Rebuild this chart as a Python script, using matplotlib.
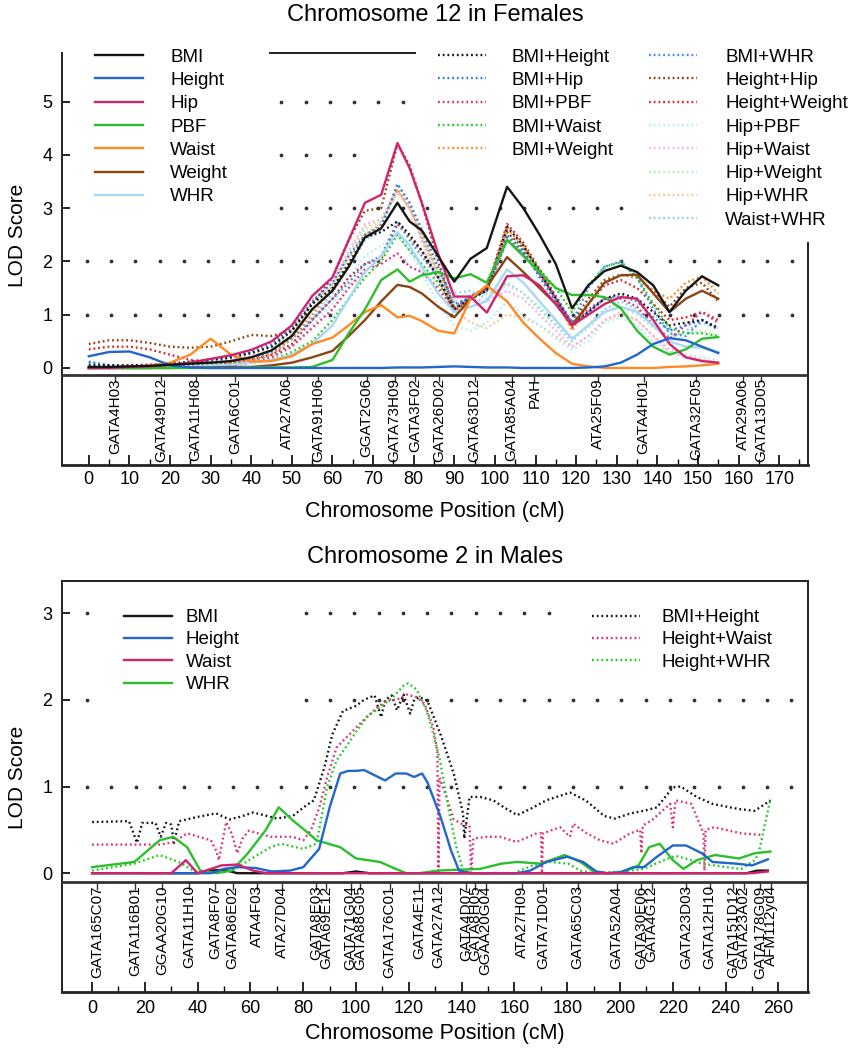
import numpy as np
import matplotlib
matplotlib.use("Agg")
import matplotlib.pyplot as plt
from matplotlib.ticker import FixedLocator

plt.rcParams['font.family'] = ['Liberation Sans', 'DejaVu Sans']
plt.rcParams['lines.scale_dashes'] = False

# ---------------- Chromosome 12, females ----------------
xt = [0, 5, 10, 15, 20, 25, 30, 35, 40, 45, 50, 55, 60, 64, 68, 72, 76, 79, 82, 86,
      90, 94, 98, 103, 107, 111, 115, 119, 123, 127, 131, 135, 139, 143, 147, 151, 155]

f_bmi = [0.02, 0.02, 0.03, 0.04, 0.06, 0.08, 0.10, 0.13, 0.20, 0.33, 0.60, 1.10, 1.45, 1.90, 2.45, 2.62, 3.10, 2.75, 2.58, 2.10,
         1.62, 2.05, 2.25, 3.40, 3.00, 2.50, 1.95, 1.12, 1.55, 1.82, 1.92, 1.80, 1.55, 1.05, 1.45, 1.72, 1.55]
f_height = [0.22, 0.30, 0.31, 0.20, 0.05, 0.01, 0, 0, 0, 0, 0, 0, 0, 0, 0, 0, 0.01, 0.01, 0.01, 0.02,
            0.03, 0.02, 0.01, 0.01, 0, 0, 0, 0, 0.01, 0.03, 0.10, 0.25, 0.45, 0.56, 0.52, 0.40, 0.28]
f_hip = [0.0, 0.0, 0.02, 0.03, 0.06, 0.10, 0.17, 0.24, 0.34, 0.50, 0.80, 1.35, 1.70, 2.40, 3.10, 3.25, 4.22, 3.75, 3.10, 2.15,
         1.34, 1.34, 1.04, 1.72, 1.74, 1.55, 1.20, 0.80, 1.00, 1.20, 1.33, 1.30, 0.90, 0.45, 0.20, 0.13, 0.10]
f_pbf = [0, 0, 0, 0, 0, 0, 0, 0, 0.01, 0.01, 0.01, 0.02, 0.15, 0.65, 1.10, 1.65, 1.85, 1.62, 1.74, 1.80,
         1.68, 1.76, 1.60, 2.40, 2.10, 1.80, 1.50, 1.37, 1.37, 1.33, 1.12, 0.70, 0.40, 0.25, 0.35, 0.55, 0.58]
f_waist = [0, 0.01, 0.02, 0.05, 0.10, 0.25, 0.55, 0.25, 0.12, 0.13, 0.22, 0.45, 0.57, 0.80, 1.05, 1.18, 0.95, 0.98, 0.88, 0.70,
           0.65, 1.30, 1.55, 1.25, 0.85, 0.55, 0.28, 0.08, 0.03, 0, 0, 0, 0, 0.02, 0.03, 0.05, 0.08]
f_weight = [0, 0, 0, 0, 0, 0.01, 0.01, 0.02, 0.02, 0.05, 0.10, 0.20, 0.32, 0.60, 0.90, 1.25, 1.56, 1.52, 1.40, 1.15,
            0.95, 1.30, 1.52, 2.08, 1.80, 1.50, 1.20, 0.80, 1.20, 1.60, 1.74, 1.75, 1.40, 1.05, 1.30, 1.45, 1.30]
f_whr = [0, 0, 0, 0, 0.01, 0.02, 0.04, 0.06, 0.10, 0.15, 0.25, 0.45, 0.80, 1.30, 1.80, 2.10, 2.55, 2.30, 1.90, 1.40,
         1.05, 1.15, 1.25, 1.85, 1.60, 1.25, 0.90, 0.55, 0.80, 1.05, 1.15, 1.05, 0.80, 0.50, 0.40, 0.38, 0.30]

f_bmi_height = [0.05, 0.05, 0.05, 0.06, 0.08, 0.12, 0.16, 0.20, 0.28, 0.40, 0.70, 1.20, 1.50, 1.95, 2.45, 2.55, 2.75, 2.50, 2.20, 1.70,
                1.10, 1.30, 1.45, 2.65, 2.30, 1.80, 1.30, 0.80, 1.05, 1.30, 1.40, 1.30, 1.05, 0.80, 0.85, 0.90, 0.75]
f_bmi_hip = [0.10, 0.05, 0.03, 0.03, 0.04, 0.08, 0.12, 0.20, 0.30, 0.45, 0.75, 1.25, 1.60, 2.10, 2.50, 2.65, 3.45, 3.10, 2.60, 1.90,
             1.20, 1.30, 1.45, 2.50, 2.20, 1.70, 1.25, 0.80, 1.05, 1.30, 1.35, 1.25, 0.95, 0.70, 0.80, 0.90, 0.72]
f_bmi_pbf = [0, 0, 0, 0, 0.01, 0.02, 0.03, 0.05, 0.10, 0.20, 0.40, 0.75, 1.10, 1.50, 1.85, 1.95, 2.15, 1.90, 1.80, 1.50,
             1.10, 1.35, 1.45, 2.40, 2.15, 1.75, 1.30, 0.85, 1.10, 1.30, 1.30, 1.15, 0.80, 0.55, 0.80, 1.05, 0.85]
f_bmi_waist = [0, 0, 0, 0, 0.01, 0.02, 0.05, 0.07, 0.10, 0.15, 0.30, 0.50, 0.90, 1.30, 1.70, 2.00, 2.50, 2.20, 1.95, 1.60,
               1.10, 1.30, 1.45, 2.45, 2.20, 1.85, 1.50, 1.05, 1.55, 1.90, 1.98, 1.70, 1.20, 0.75, 0.65, 0.65, 0.60]
f_bmi_weight = [0, 0, 0, 0.01, 0.02, 0.03, 0.05, 0.10, 0.15, 0.25, 0.55, 1.00, 1.50, 2.00, 2.50, 2.70, 3.35, 3.00, 2.50, 1.80,
                1.10, 1.30, 1.50, 2.60, 2.30, 1.80, 1.30, 0.70, 1.20, 1.60, 1.75, 1.70, 1.45, 1.30, 1.60, 1.72, 1.40]
f_bmi_whr = [0.12, 0.05, 0.02, 0.02, 0.03, 0.05, 0.08, 0.10, 0.15, 0.30, 0.55, 0.90, 1.30, 1.60, 1.95, 2.10, 2.75, 2.40, 2.10, 1.70,
             1.15, 1.35, 1.45, 2.40, 2.15, 1.75, 1.35, 0.85, 1.50, 1.90, 2.00, 1.70, 1.10, 0.65, 0.60, 0.90, 0.75]
f_height_hip = [0.45, 0.52, 0.52, 0.47, 0.40, 0.38, 0.40, 0.50, 0.62, 0.60, 0.70, 1.20, 1.70, 2.40, 2.95, 3.00, 4.20, 3.80, 3.10, 2.00,
                1.10, 1.35, 1.50, 2.55, 2.25, 1.85, 1.35, 0.85, 1.30, 1.65, 1.75, 1.70, 1.45, 1.15, 1.50, 1.60, 1.25]
f_height_weight = [0.35, 0.40, 0.40, 0.35, 0.25, 0.15, 0.10, 0.10, 0.15, 0.25, 0.45, 0.90, 1.30, 1.70, 1.95, 2.05, 2.70, 2.45, 2.20, 1.70,
                   1.05, 1.30, 1.50, 2.70, 2.35, 1.85, 1.30, 0.75, 1.20, 1.55, 1.65, 1.50, 1.20, 0.90, 0.95, 1.05, 0.90]
f_hip_pbf = [0, 0, 0, 0, 0.01, 0.02, 0.04, 0.06, 0.10, 0.20, 0.40, 0.80, 1.20, 1.70, 2.10, 2.30, 2.50, 2.20, 1.80, 1.20,
             0.80, 0.70, 0.85, 1.25, 1.00, 0.80, 0.55, 0.35, 0.50, 0.85, 0.95, 0.80, 0.50, 0.30, 0.25, 0.20, 0.15]
f_hip_waist = [0, 0, 0, 0.01, 0.03, 0.06, 0.10, 0.15, 0.25, 0.40, 0.70, 1.20, 1.60, 2.20, 2.70, 2.80, 3.30, 3.00, 2.40, 1.70,
               1.25, 1.30, 1.25, 1.45, 1.30, 1.00, 0.70, 0.40, 0.60, 0.90, 1.05, 0.90, 0.60, 0.30, 0.20, 0.15, 0.10]
f_hip_weight = [0.05, 0.05, 0.05, 0.06, 0.08, 0.10, 0.13, 0.16, 0.20, 0.35, 0.65, 1.10, 1.50, 2.10, 2.60, 2.75, 3.30, 3.00, 2.50, 1.80,
                1.30, 1.35, 1.40, 1.55, 1.40, 1.15, 0.85, 0.55, 0.75, 1.05, 1.15, 1.00, 0.75, 0.60, 0.65, 0.70, 0.60]
f_hip_whr = [0.03, 0.03, 0.03, 0.04, 0.06, 0.08, 0.11, 0.15, 0.20, 0.35, 0.65, 1.10, 1.55, 2.15, 2.65, 2.80, 3.35, 3.00, 2.40, 1.60,
             1.10, 0.85, 0.75, 1.00, 0.95, 0.80, 0.60, 0.40, 0.60, 0.90, 1.00, 0.90, 0.60, 0.35, 0.25, 0.15, 0.10]
f_waist_whr = [0.02, 0.02, 0.02, 0.03, 0.05, 0.08, 0.11, 0.13, 0.15, 0.30, 0.55, 0.95, 1.40, 1.90, 2.40, 2.60, 3.45, 3.10, 2.40, 1.80,
               1.40, 1.45, 1.30, 1.60, 1.40, 1.10, 0.80, 0.50, 0.80, 1.10, 1.25, 1.10, 0.80, 0.55, 0.70, 0.85, 0.75]

f_markers = ["GATA4H03", "GATA49D12", "GATA11H08", "GATA6C01", "ATA27A06", "GATA91H06", "GGAT2G06",
             "GATA73H09", "GATA3F02", "GATA26D02", "GATA63D12", "GATA85A04", "PAH", "ATA25F09",
             "GATA4H01", "GATA32F05", "ATA29A06", "GATA13D05"]
f_marker_cm = [6.4, 17.8, 26.3, 36.0, 48.7, 56.4, 68.4, 75.3, 80.4, 86.3, 95.0, 104.1, 109.7, 125.3,
               136.6, 149.6, 161.0, 165.6]

# ---------------- Chromosome 2, males ----------------
m_bmi_x = [0, 40, 45, 50, 55, 95, 100, 105, 248, 252, 256]
m_bmi = [0, 0, 0.03, 0.04, 0, 0, 0.02, 0, 0, 0.03, 0.03]
m_height_x = [30, 45, 50, 55, 62, 68, 75, 80, 86, 90, 94, 97, 100, 103, 107, 111, 115, 119, 122, 125,
              127, 132, 136, 139, 144, 161, 166, 172, 180, 186, 191, 195, 200, 205, 209, 214, 220, 225, 231, 235,
              244, 250, 256]
m_height = [0, 0, 0.05, 0.07, 0.06, 0.02, 0.03, 0.07, 0.28, 0.76, 1.15, 1.18, 1.18, 1.19, 1.13, 1.07, 1.15, 1.15, 1.11, 1.15,
            1.05, 0.65, 0.26, 0.03, 0, 0, 0.03, 0.13, 0.19, 0.13, 0.02, 0, 0.01, 0.07, 0.07, 0.19, 0.32, 0.32, 0.23, 0.13,
            0.11, 0.09, 0.16]
m_waist_x = [0, 30, 35.5, 40, 43, 49, 55, 61, 66, 250, 256]
m_waist = [0, 0, 0.15, 0, 0.03, 0.09, 0.10, 0.03, 0, 0, 0.02]
m_whr_x = [0, 16, 25.6, 30.7, 36, 41, 47, 53, 59, 65.6, 70.7, 76, 82, 85, 94, 100, 109, 115, 119, 124,
           131, 138, 147, 155, 161, 170, 179, 185, 190, 195, 201, 207, 211, 215, 220, 224, 229, 236, 245, 251, 257]
m_whr = [0.07, 0.13, 0.38, 0.42, 0.30, 0.03, 0.0, 0.03, 0.23, 0.49, 0.76, 0.61, 0.46, 0.38, 0.30, 0.17, 0.13, 0.05, 0.0, 0.0,
         0.03, 0.04, 0.05, 0.11, 0.13, 0.11, 0.21, 0.13, 0.02, 0.0, 0.01, 0.09, 0.30, 0.34, 0.15, 0.05, 0.15, 0.21, 0.17, 0.23, 0.25]

m_bmi_height_x = [0, 14, 17, 19, 24, 26, 28, 30, 31, 33, 40, 47, 52, 56, 61, 65, 70, 76, 81, 84,
                  88, 91, 95, 100, 103, 107, 109.5, 111, 113.5, 115.5, 118, 120.5, 122, 124, 127, 132, 137, 140.5, 141, 143,
                  147, 152, 156, 161, 166, 172, 181, 187, 194, 198, 204, 209, 214, 220, 223, 229, 235, 245, 251, 257]
m_bmi_height = [0.59, 0.60, 0.35, 0.58, 0.58, 0.42, 0.58, 0.56, 0.35, 0.60, 0.65, 0.69, 0.62, 0.65, 0.70, 0.67, 0.63, 0.66, 0.78, 0.84,
                1.22, 1.60, 1.87, 1.93, 2.00, 2.05, 1.80, 2.00, 2.05, 1.88, 2.06, 1.84, 2.00, 2.03, 1.99, 1.60, 1.15, 0.69, 0.40, 0.88,
                0.88, 0.84, 0.76, 0.67, 0.74, 0.84, 0.93, 0.84, 0.66, 0.63, 0.69, 0.72, 0.76, 0.99, 1.00, 0.88, 0.80, 0.74, 0.72, 0.84]
m_height_waist_x = [0, 26, 31, 36, 45, 47, 48, 50.8, 53, 55, 57, 59.4, 67.6, 75.8, 80, 83, 86, 89, 92.6, 96.5,
                    100, 104, 108, 111.6, 115.4, 119.2, 123, 126, 129.3, 130.8, 131.2, 131.6, 134, 137, 140, 143, 143.6, 144.4, 149.5, 154.6,
                    160.8, 168.4, 170.1, 170.4, 170.8, 173.5, 177.3, 181, 182.3, 187.4, 192.4, 197.5, 203.8, 207.6, 208.1, 208.6, 212, 219, 220, 221,
                    227, 231.6, 232, 232.4, 235.6, 245.9, 254]
m_height_waist = [0.33, 0.33, 0.36, 0.46, 0.38, 0.26, 0.15, 0.59, 0.45, 0.23, 0.40, 0.49, 0.42, 0.42, 0.38, 0.50, 0.75, 1.10, 1.45, 1.57,
                  1.68, 1.80, 1.91, 1.99, 2.00, 2.06, 2.03, 1.95, 1.68, 1.40, 0.0, 1.10, 0.90, 0.62, 0.57, 0.55, 0.0, 0.40, 0.42, 0.42,
                  0.36, 0.46, 0.46, 0.0, 0.46, 0.49, 0.53, 0.42, 0.57, 0.46, 0.38, 0.34, 0.46, 0.50, 0.23, 0.55, 0.61, 0.80, 0.53, 0.84,
                  0.80, 0.46, 0.03, 0.50, 0.53, 0.46, 0.44]
m_height_whr_x = [0, 16, 25.6, 32.8, 39, 53, 59.4, 67.6, 71.7, 79.9, 85, 89, 92.6, 96.5, 100.2, 104, 109, 114, 117.9, 119.8,
                  122.9, 126.8, 129.3, 131.8, 134.9, 138, 140.6, 144, 160, 162, 167, 173.5, 180.4, 185, 190, 201, 209, 215, 221, 227,
                  231, 240, 246, 251, 252.5, 257]
m_height_whr = [0.03, 0.11, 0.21, 0.13, 0.02, 0.03, 0.15, 0.30, 0.34, 0.28, 0.34, 0.99, 1.30, 1.47, 1.64, 1.80, 1.91, 2.03, 2.16, 2.19,
                2.12, 1.87, 1.60, 1.30, 0.76, 0.30, 0.03, 0.0, 0.0, 0.03, 0.09, 0.13, 0.11, 0.03, 0.0, 0.02, 0.05, 0.13, 0.20, 0.15,
                0.11, 0.07, 0.05, 0.15, 0.23, 0.86]

m_markers = ["GATA165C07", "GATA116B01", "GGAA20G10", "GATA11H10", "GATA8F07", "GATA86E02", "ATA4F03",
             "ATA27D04", "GATA8E03", "GATA69E12", "GATA71G04", "GATA88G05", "GATA176C01", "GATA4E11",
             "GATA27A12", "GATA4D07", "GATA8H05", "GGAA20G04", "ATA27H09", "GATA71D01", "GATA65C03",
             "GATA52A04", "GATA30E06", "GATA4G12", "GATA23D03", "GATA12H10", "GATA151D12", "GATA23A02",
             "GATA178G09", "AFM112yd4"]
m_marker_cm = [2.0, 16.4, 26.6, 36.8, 46.5, 53.2, 62.5, 72.1, 85.0, 88.7, 97.9, 101.4, 112.7, 123.9,
               131.1, 141.7, 145.0, 149.1, 162.8, 171.0, 183.9, 198.7, 207.9, 212.0, 224.9, 233.9, 242.7, 246.8,
               253.0, 257.1]

# colours
BLACK = '#151515'
BLUE = '#2266cc'
CRIMSON = '#d0246e'
GREEN = '#2cbf2c'
ORANGE = '#ff8a24'
BROWN = '#8b4513'
SKY = '#a8d8f5'

DOT = (0, (1.3, 2.1))
FS = 13
LFS = 13.5

fig = plt.figure(figsize=(8.48, 10.5), dpi=100)
ax1 = fig.add_axes([62 / 848, 1 - 465 / 1050, 746 / 848, 412 / 1050])
ax2 = fig.add_axes([62 / 848, 1 - 992 / 1050, 746 / 848, 411 / 1050])


def style_axes(ax, xlim, ylim, axis_y, yticks, xmajor, xminor, xpad):
    ax.set_xlim(*xlim)
    ax.set_ylim(*ylim)
    for s in ax.spines.values():
        s.set_linewidth(1.4)
        s.set_color('#222222')
    ax.spines['bottom'].set_linewidth(2.0)
    # horizontal line separating the LOD area from the marker strip
    ax.axhline(axis_y, color='#333333', lw=2.0, zorder=4)
    ax.yaxis.set_major_locator(FixedLocator(yticks))
    ax.xaxis.set_major_locator(FixedLocator(xmajor))
    ax.xaxis.set_minor_locator(FixedLocator(xminor))
    ax.tick_params(axis='y', direction='in', length=6, width=1.2, labelsize=FS, pad=7, right=False)
    ax.tick_params(axis='x', which='major', direction='in', length=7, width=1.2, labelsize=FS, pad=xpad, top=False)
    ax.tick_params(axis='x', which='minor', direction='in', length=4, width=1.0, top=False)


def grid_dots(ax, level, x0, step, ks):
    xs = [x0 + step * k for k in ks]
    ax.plot(xs, [level] * len(xs), ls='none', marker='o', ms=1.7, color='#333333', zorder=1)


def marker_strip(ax, names, pos, axis_y, tick_len, text_y):
    ax.vlines(pos, axis_y - tick_len, axis_y, color='#333333', lw=1.0, zorder=4)
    for name, p in zip(names, pos):
        ax.text(p, text_y, name, rotation=90, ha='center', va='top', fontsize=11, zorder=5)


# ---------- top panel ----------
style_axes(ax1, (-6.6, 177.1), (-1.82, 5.91), -0.13, range(0, 6),
           range(0, 171, 10), range(5, 176, 10), 4.5)
ax1.spines['top'].set_bounds(44.6, 80.3)
ax1.spines['right'].set_bounds(-1.82, 2.35)

step1 = 5.985
grid_dots(ax1, 1, -0.5, step1, range(0, 30))
grid_dots(ax1, 2, -0.5, step1, range(0, 30))
grid_dots(ax1, 3, -0.5, step1, range(8, 23))
grid_dots(ax1, 4, -0.5, step1, range(8, 12))
grid_dots(ax1, 5, -0.5, step1, range(8, 14))

solid_f = [("BMI", f_bmi, BLACK), ("Height", f_height, BLUE), ("Hip", f_hip, CRIMSON),
           ("PBF", f_pbf, GREEN), ("Waist", f_waist, ORANGE), ("Weight", f_weight, BROWN),
           ("WHR", f_whr, SKY)]
dotted_f = [("BMI+Height", f_bmi_height, BLACK), ("BMI+Hip", f_bmi_hip, '#2f7de0'),
            ("BMI+PBF", f_bmi_pbf, '#e0307a'), ("BMI+Waist", f_bmi_waist, '#22cc22'),
            ("BMI+Weight", f_bmi_weight, ORANGE), ("BMI+WHR", f_bmi_whr, '#3d8ef5'),
            ("Height+Hip", f_height_hip, BROWN), ("Height+Weight", f_height_weight, '#e02424'),
            ("Hip+PBF", f_hip_pbf, '#b5eef5'), ("Hip+Waist", f_hip_waist, '#f0b4ee'),
            ("Hip+Weight", f_hip_weight, '#b5eeb5'), ("Hip+WHR", f_hip_whr, '#f5c890'),
            ("Waist+WHR", f_waist_whr, '#8fd0f0')]

dot_lines = {}
for lab, vals, col in dotted_f[::-1]:
    dot_lines[lab], = ax1.plot(xt, vals, color=col, lw=1.7, ls=DOT, label=lab, zorder=2)
sol_lines = {}
for lab, vals, col in solid_f[::-1]:
    sol_lines[lab], = ax1.plot(xt, vals, color=col, lw=1.7, label=lab, zorder=3)

leg_kw = dict(frameon=False, borderpad=0, borderaxespad=0, handlelength=2.56,
              fontsize=LFS, loc='upper left')
h1 = [sol_lines[l] for l, _, _ in solid_f]
h2 = [dot_lines[l] for l, _, _ in dotted_f[:5]]
h3 = [dot_lines[l] for l, _, _ in dotted_f[5:]]
lg = ax1.legend(h1, [h.get_label() for h in h1], bbox_to_anchor=(0.044, 1.011),
                handletextpad=1.45, labelspacing=0.33, **leg_kw)
ax1.add_artist(lg)
lg = ax1.legend(h2, [h.get_label() for h in h2], bbox_to_anchor=(0.504, 1.011),
                handletextpad=1.35, labelspacing=0.33, **leg_kw)
ax1.add_artist(lg)
ax1.legend(h3, [h.get_label() for h in h3], bbox_to_anchor=(0.787, 1.011),
           handletextpad=1.5, labelspacing=0.33, **leg_kw)

marker_strip(ax1, f_markers, f_marker_cm, -0.13, 0.14, -0.19)

# ---------- bottom panel ----------
style_axes(ax2, (-11.4, 271.2), (-1.37, 3.37), -0.104, range(0, 4),
           range(0, 261, 20), range(10, 261, 20), 5.5)

step2 = 9.2
grid_dots(ax2, 1, -1.9, step2, range(0, 30))
grid_dots(ax2, 2, -1.9, step2, [0] + list(range(9, 30)))
grid_dots(ax2, 3, -1.9, step2, [0] + list(range(9, 20)))

dotted_m = [("BMI+Height", m_bmi_height_x, m_bmi_height, BLACK),
            ("Height+Waist", m_height_waist_x, m_height_waist, '#e0307a'),
            ("Height+WHR", m_height_whr_x, m_height_whr, '#22cc22')]
solid_m = [("BMI", m_bmi_x, m_bmi, BLACK), ("Height", m_height_x, m_height, BLUE),
           ("Waist", m_waist_x, m_waist, CRIMSON), ("WHR", m_whr_x, m_whr, GREEN)]

hd = []
for lab, xs, vals, col in dotted_m:
    ln, = ax2.plot(xs, vals, color=col, lw=1.7, ls=DOT, label=lab, zorder=2)
    hd.append(ln)
hs = {}
for lab in ["BMI", "WHR", "Height", "Waist"]:
    _, xs, vals, col = [s for s in solid_m if s[0] == lab][0]
    hs[lab], = ax2.plot(xs, vals, color=col, lw=1.7, label=lab, zorder=3)
hs_list = [hs[l] for l, _, _, _ in solid_m]

lg = ax2.legend(hs_list, [h.get_label() for h in hs_list], bbox_to_anchor=(0.083, 0.932),
                handletextpad=0.75, labelspacing=0.28, **leg_kw)
ax2.add_artist(lg)
ax2.legend(hd, [h.get_label() for h in hd], bbox_to_anchor=(0.710, 0.932),
           handletextpad=1.17, labelspacing=0.28, **leg_kw)

marker_strip(ax2, m_markers, m_marker_cm, -0.104, 0.09, -0.14)

# titles and axis labels
fig.text(435 / 848, 1 - 15 / 1050, "Chromosome 12 in Females", ha='center', va='center', fontsize=17)
fig.text(435 / 848, 1 - 557 / 1050, "Chromosome 2 in Males", ha='center', va='center', fontsize=17)
fig.text(18 / 848, 1 - 235 / 1050, "LOD Score", rotation=90, ha='center', va='center', fontsize=15)
fig.text(18 / 848, 1 - 777 / 1050, "LOD Score", rotation=90, ha='center', va='center', fontsize=15)
fig.text(435 / 848, 1 - 511 / 1050, "Chromosome Position (cM)", ha='center', va='center', fontsize=15.5)
fig.text(435 / 848, 1 - 1033 / 1050, "Chromosome Position (cM)", ha='center', va='center', fontsize=15.5)

fig.savefig("out.png", dpi=100)
